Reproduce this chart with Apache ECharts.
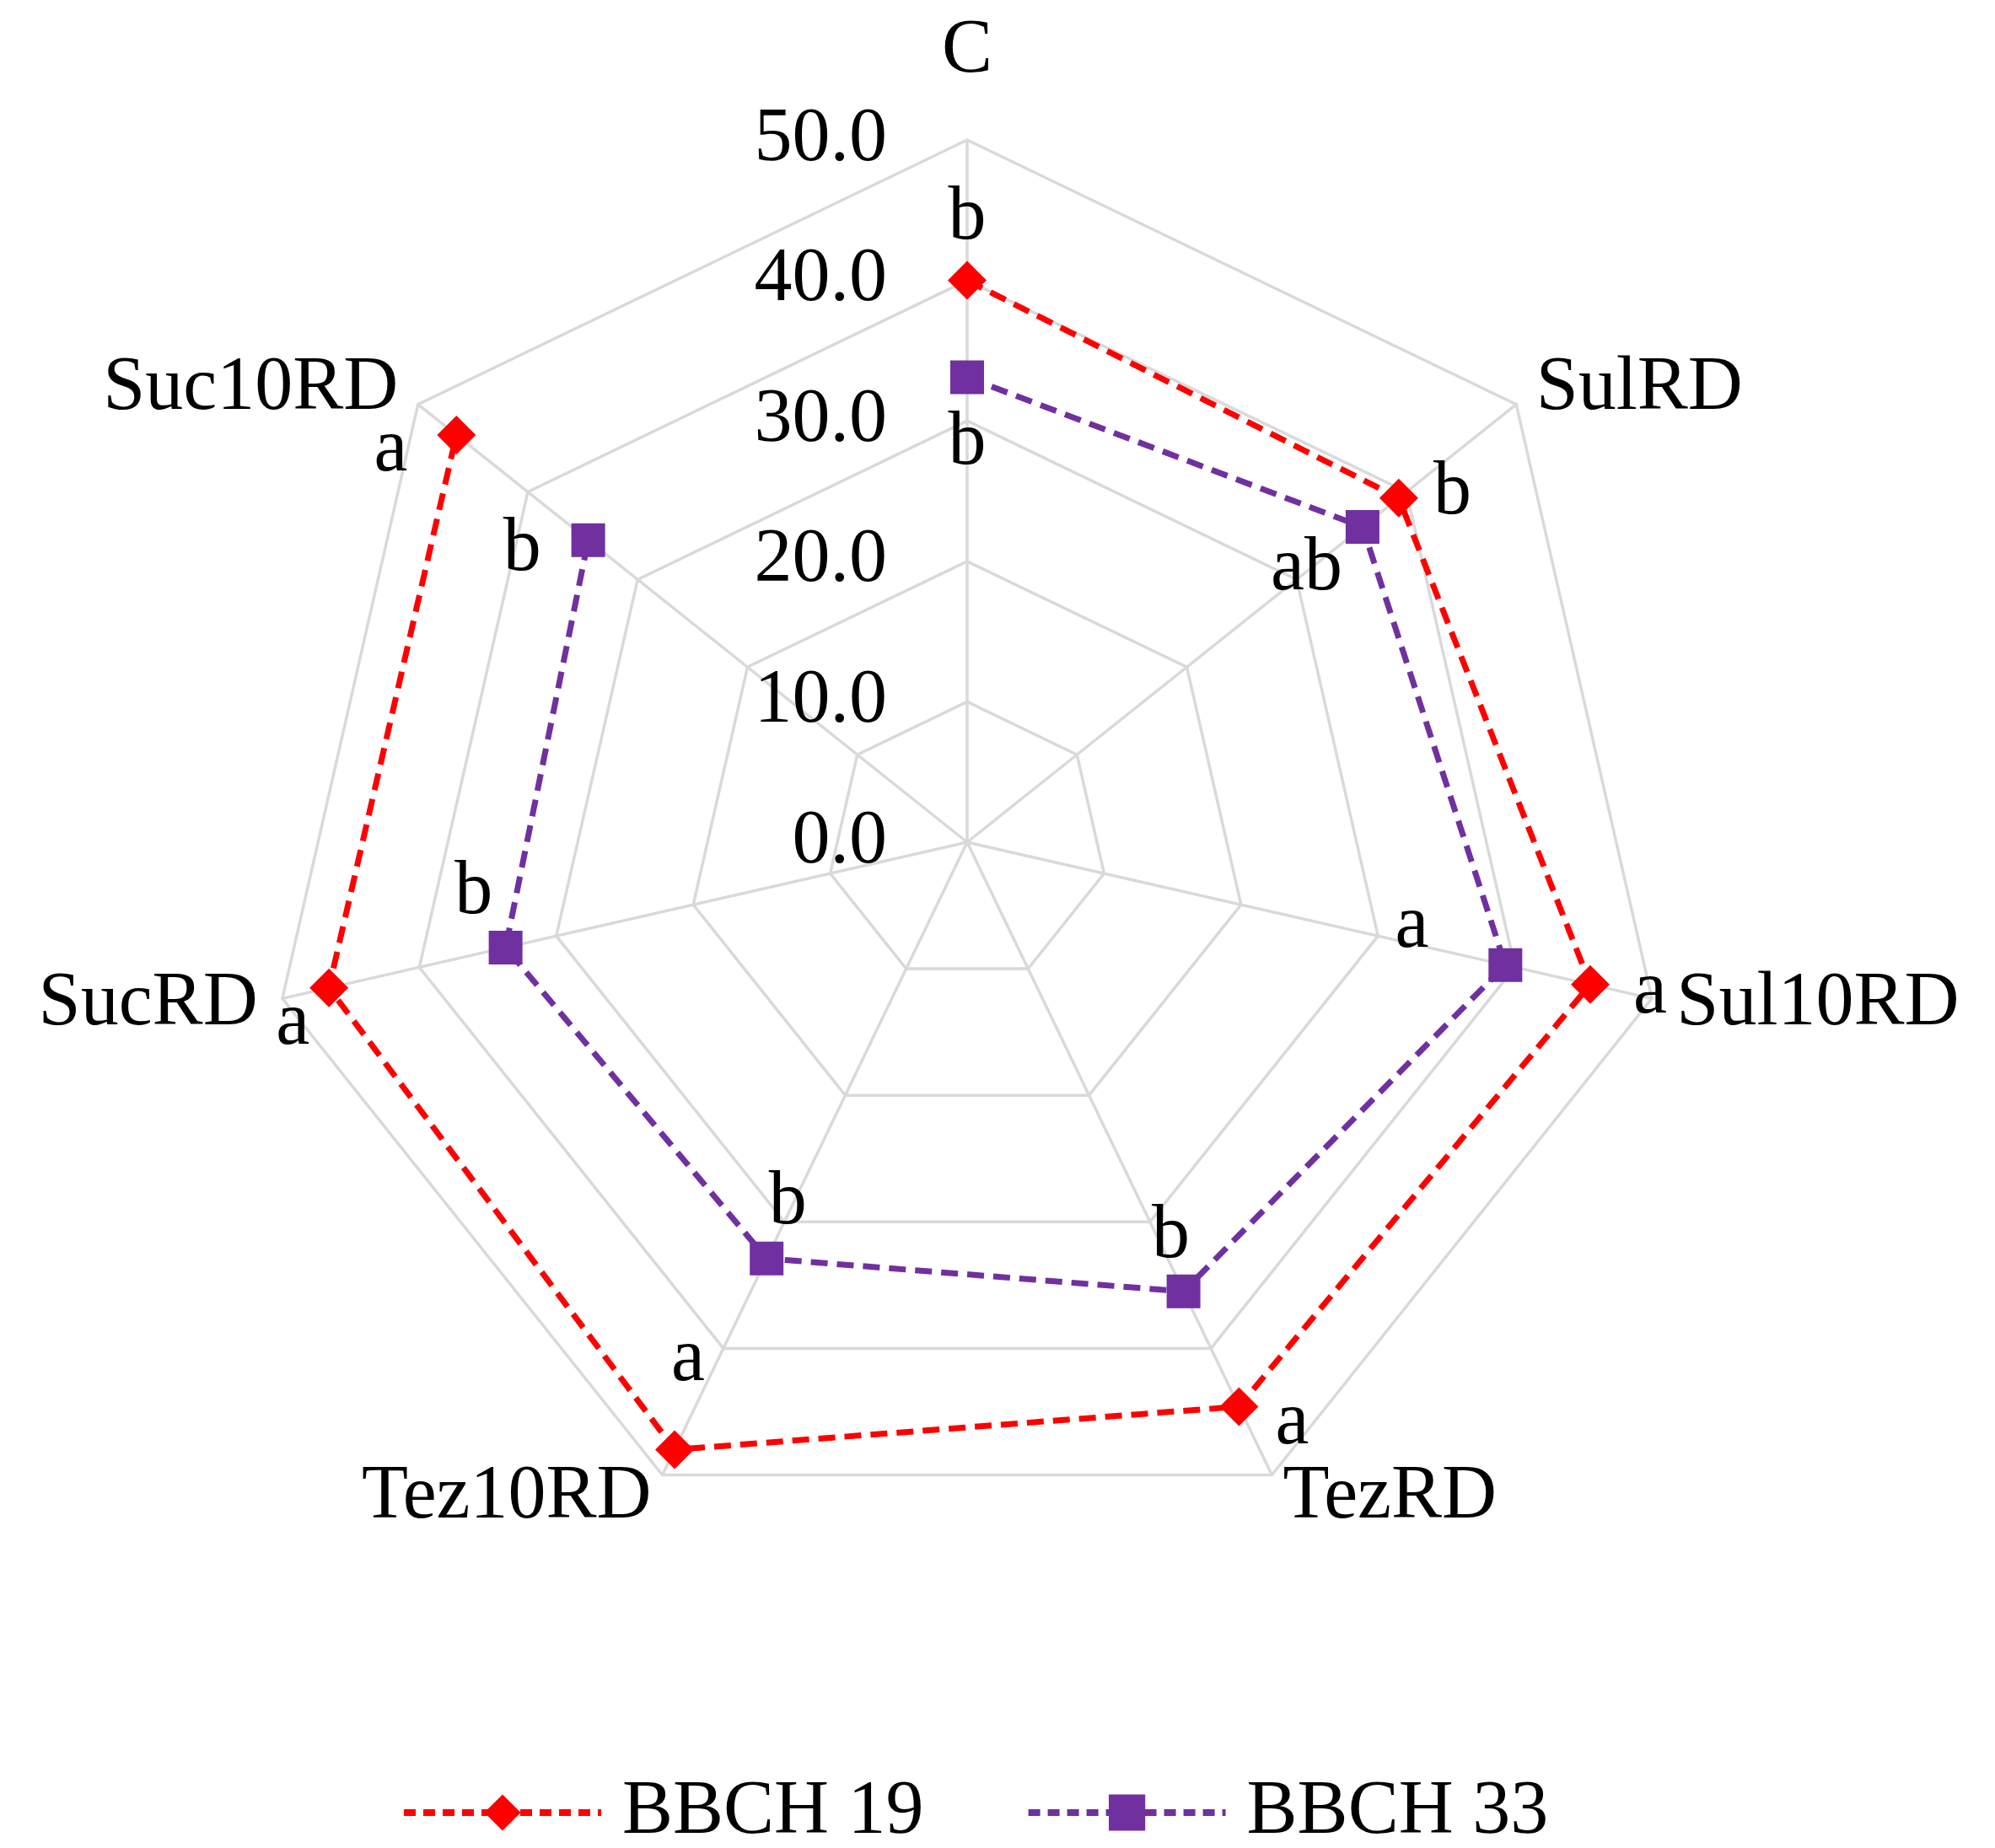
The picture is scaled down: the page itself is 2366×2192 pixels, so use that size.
<!DOCTYPE html>
<html><head><meta charset="utf-8">
<script src="https://cdn.jsdelivr.net/npm/echarts@6/dist/echarts.min.js"></script>
<style>html,body{margin:0;padding:0;background:#fff}#c{width:2366px;height:2192px}</style>
</head><body><div id="c"></div>
<script>
// ---- data ----
const categories = ['C', 'SulRD', 'Sul10RD', 'TezRD', 'Tez10RD', 'SucRD', 'Suc10RD'];
const seriesNames = ['BBCH 19', 'BBCH 33'];
const bbch19 = [40.0, 39.3, 45.5, 44.6, 48.0, 46.6, 46.5];
const bbch33 = [33.1, 36.0, 39.3, 35.5, 32.9, 33.7, 34.5];
const letters19 = ['b', 'b', 'a', 'a', 'a', 'a', 'a'];
const letters33 = ['b', 'ab', 'a', 'b', 'b', 'b', 'b'];
const axisMin = 0, axisMax = 50, axisSplits = 5;

// ---- styling ----
const FONT = 'Liberation Serif';
const FS = 90;
const CENTER = [1147, 999];
const RADIUS = 833;
const colors = ['#ff0000', '#7030a0'];
const symbols = ['diamond', 'rect'];
const symbolSizes = [46, 40];
// label placement per point (position, distance, offset)
const place19 = [
  {position: 'top', distance: 5, offset: [0, 0]},
  {position: 'right', distance: 18, offset: [0, -5]},
  {position: 'right', distance: 28, offset: [0, 10]},
  {position: 'right', distance: 20, offset: [0, 20]},
  {position: 'top', distance: 38, offset: [16, 0]},
  {position: 'left', distance: 0, offset: [0, 43]},
  {position: 'left', distance: 35, offset: [0, 18]}
];
const place33 = [
  {position: 'bottom', distance: 14, offset: [0, 0]},
  {position: 'left', distance: 4, offset: [0, 50]},
  {position: 'left', distance: 71, offset: [0, -45]},
  {position: 'top', distance: 0, offset: [-15, 0]},
  {position: 'top', distance: 0, offset: [25, 0]},
  {position: 'top', distance: 0, offset: [-38, 0]},
  {position: 'left', distance: 36, offset: [0, 12]}
];

// radar indicators go counter-clockwise in ECharts; polar goes clockwise
const radarOrder = [categories[0]].concat(categories.slice(1).reverse());

function buildSeries(idx, values, letters, place) {
  const data = values.map((v, i) => ({
    value: [v, categories[i]],
    label: Object.assign({show: true, formatter: letters[i]}, place[i])
  }));
  data.push({value: [values[0], categories[0]], symbol: 'none', label: {show: false}});
  return {
    type: 'line', name: seriesNames[idx], coordinateSystem: 'polar',
    data: data,
    symbol: symbols[idx], symbolSize: symbolSizes[idx],
    lineStyle: {color: colors[idx], width: 7, type: [20, 11]},
    itemStyle: {color: colors[idx]},
    label: {color: '#000', fontSize: FS, fontFamily: FONT},
    z: 3 - idx,
    animation: false
  };
}

const chart = echarts.init(document.getElementById('c'), null, {renderer: 'canvas'});
chart.setOption({
  backgroundColor: '#fff',
  animation: false,
  radar: {
    center: CENTER, radius: RADIUS, startAngle: 90, splitNumber: axisSplits, shape: 'polygon',
    nameGap: 30,
    axisName: {color: '#000', fontSize: FS, fontFamily: FONT},
    splitLine: {lineStyle: {color: '#d9d9d9', width: 3.5}},
    splitArea: {show: false},
    axisLine: {lineStyle: {color: '#d9d9d9', width: 3.5}},
    axisTick: {show: false},
    axisLabel: {show: false, color: '#000', fontSize: FS, fontFamily: FONT, margin: 95,
      formatter: v => Number(v).toFixed(1)},
    indicator: radarOrder.map((n, i) => {
      const o = {name: n, min: axisMin, max: axisMax};
      if (i === 0) { o.axisLabel = {show: true}; o.nameGap = 60; }
      return o;
    })
  },
  polar: {center: CENTER, radius: RADIUS},
  angleAxis: {type: 'category', data: categories, startAngle: 90, clockwise: true, boundaryGap: false, show: false},
  radiusAxis: {min: axisMin, max: axisMax, show: false},
  legend: {
    data: seriesNames, left: 470, top: 2100, itemWidth: 234, itemHeight: 54, itemGap: 120,
    lineStyle: {width: 8, type: [14, 9]},
    textStyle: {color: '#000', fontSize: FS, fontFamily: FONT, padding: [0, 0, 0, 20]}
  },
  series: [
    buildSeries(0, bbch19, letters19, place19),
    buildSeries(1, bbch33, letters33, place33)
  ]
});
</script></body></html>
